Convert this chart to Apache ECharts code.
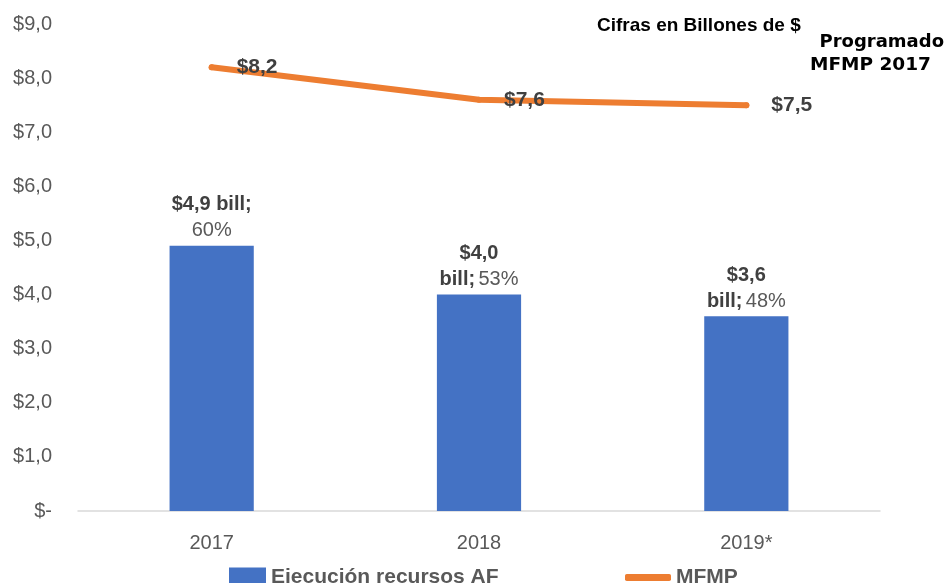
<!DOCTYPE html>
<html lang="es">
<head>
    <meta charset="utf-8">
    <title>Ejecución recursos AF vs MFMP</title>
    <style type="text/css">
        html, body { margin: 0; padding: 0; background: #fff; }
        #page { width: 946px; height: 583px; }
    </style>
</head>
<body>
<div id="page"></div>
<script src="https://cdn.jsdelivr.net/npm/echarts@6/dist/echarts.min.js"></script>
<script>
    // datos del gráfico
    var years = ['2017', '2018', '2019*'];
    var ejecucion = [4.9, 4.0, 3.6];
    var porcentaje = ['60%', '53%', '48%'];
    var mfmp = [8.2, 7.6, 7.5];
    var yTicks = [0, 1, 2, 3, 4, 5, 6, 7, 8, 9];

    (function () {
        var font = '"Liberation Sans", "Open Sans", sans-serif';
        var gray = '#595959';
        var dark = '#404040';

        function money(v) {
            return '$' + v.toFixed(1).replace('.', ',');
        }

        // etiqueta de barra en dos líneas, como en el original
        function barLabel(params) {
            var i = params.dataIndex;
            var v = money(ejecucion[i]);
            if (i === 0) {
                return '{b|' + v + ' bill;}\n{n|' + porcentaje[i] + '}';
            }
            return '{b|' + v + '}\n{b|bill;} {n|' + porcentaje[i] + '}';
        }

        var myChart = echarts.init(document.getElementById('page'));
        var option = {
            animation: false,
            textStyle: {fontFamily: font},
            grid: {left: 78, right: 66, top: 24, bottom: 72, containLabel: false},
            graphic: [
                {
                    type: 'text', left: 597, top: 16,
                    style: {text: 'Cifras en Billones de $', font: 'bold 19px ' + font, fill: '#000'}
                },
                {
                    type: 'text', right: 2, top: 33,
                    style: {text: 'Programado', font: 'bold 18px "DejaVu Sans", sans-serif', fill: '#000', align: 'right'}
                },
                {
                    type: 'text', left: 810, top: 56,
                    style: {text: 'MFMP 2017', font: 'bold 18.5px "DejaVu Sans", sans-serif', fill: '#000'}
                }
            ],
            legend: [
                {
                    data: ['Ejecución recursos AF'],
                    left: 224, top: 562,
                    icon: 'rect', itemWidth: 37, itemHeight: 20, itemGap: 6,
                    textStyle: {fontSize: 21, fontWeight: 'bold', color: gray, fontFamily: font}
                },
                {
                    data: ['MFMP'],
                    left: 620, top: 562,
                    icon: 'roundRect', itemWidth: 46, itemHeight: 7,
                    textStyle: {fontSize: 21, fontWeight: 'bold', color: gray, fontFamily: font}
                }
            ],
            xAxis: {
                type: 'category',
                data: years,
                axisLine: {lineStyle: {color: '#d9d9d9', width: 1.5}},
                axisTick: {show: false},
                axisLabel: {color: gray, fontSize: 20, margin: 22}
            },
            yAxis: {
                type: 'value',
                min: yTicks[0],
                max: yTicks[yTicks.length - 1],
                interval: 1,
                splitLine: {show: false},
                axisLine: {show: false},
                axisTick: {show: false},
                axisLabel: {
                    color: gray, fontSize: 20, margin: 26,
                    formatter: function (v) {
                        return v === 0 ? '$-' : money(v);
                    }
                }
            },
            series: [
                {
                    name: 'Ejecución recursos AF',
                    type: 'bar',
                    data: ejecucion,
                    barWidth: '31.5%',
                    itemStyle: {color: '#4472C4'},
                    label: {
                        show: true,
                        position: 'top',
                        distance: 2,
                        formatter: barLabel,
                        rich: {
                            b: {fontSize: 20, fontWeight: 'bold', color: dark, lineHeight: 26, fontFamily: font},
                            n: {fontSize: 20, color: gray, lineHeight: 26, fontFamily: font}
                        }
                    }
                },
                {
                    name: 'MFMP',
                    type: 'line',
                    data: mfmp,
                    symbol: 'circle',
                    symbolSize: 6,
                    lineStyle: {color: '#ED7D31', width: 6, cap: 'round'},
                    itemStyle: {color: '#ED7D31'},
                    label: {
                        show: true,
                        position: 'right',
                        distance: 22,
                        fontSize: 21,
                        fontWeight: 'bold',
                        color: dark,
                        formatter: function (p) {
                            return money(p.value);
                        }
                    }
                }
            ]
        };
        myChart.setOption(option);
    })();
</script>
</body>
</html>
